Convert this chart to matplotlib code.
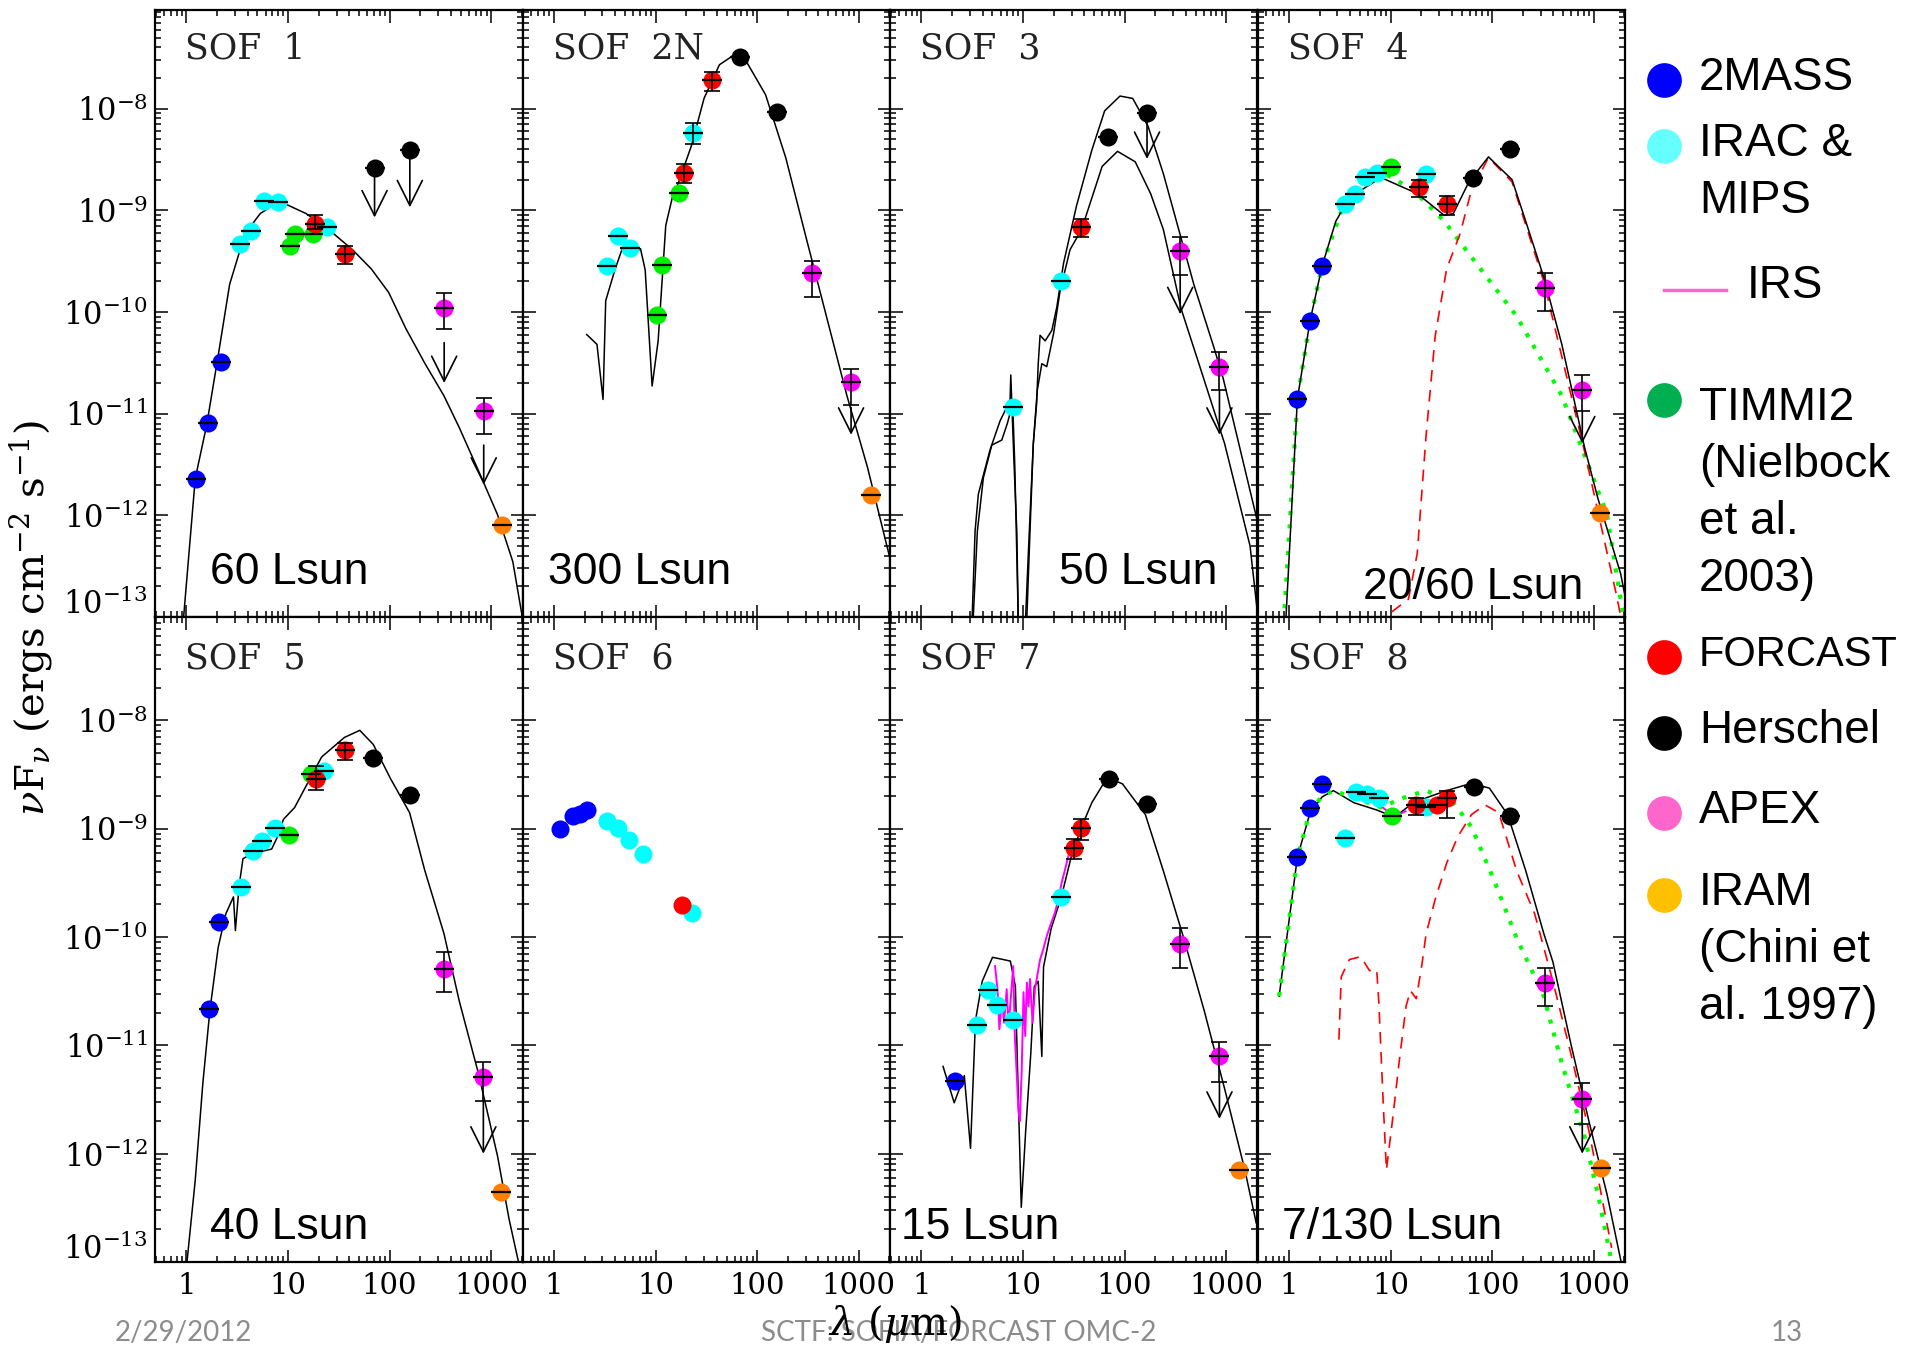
import matplotlib
matplotlib.use("Agg")
import matplotlib.pyplot as plt
from matplotlib.ticker import (LogLocator, NullFormatter, FixedLocator,
                               FixedFormatter, LogFormatterMathtext, FuncFormatter)

plt.rcParams["font.family"] = "DejaVu Serif"
plt.rcParams["mathtext.fontset"] = "dejavuserif"

W, H = 1909, 1359

SURVEYS = ["2MASS", "IRAC", "TIMMI2", "FORCAST", "Herschel", "APEX", "IRAM"]
POINT_COLORS = ["#0000ff", "#00ffff", "#00ee00", "#ff0000", "#000000", "#ff00ff", "#ff8000"]

XTICKS = [1, 10, 100, 1000]
XTICK_LABELS = ["1", "10", "100", "1000"]
YMIN = 1e-13

# ---------------- SOF 1 ----------------
sof1_wave = [1.24, 1.64, 2.17, 3.4, 4.3, 5.8, 7.9, 24, 10.4, 11.6, 17.6, 18.5, 36, 71, 158, 344, 843, 1268]
sof1_flux = [2.3e-12, 8.1e-12, 3.2e-11, 4.7e-10, 6.2e-10, 1.23e-9, 1.2e-9, 6.9e-10, 4.5e-10, 5.9e-10,
             5.9e-10, 7.4e-10, 3.7e-10, 2.6e-9, 3.9e-9, 1.1e-10, 1.05e-11, 8.0e-13]
sof1_src = ["2MASS"] * 3 + ["IRAC"] * 5 + ["TIMMI2"] * 3 + ["FORCAST"] * 2 + ["Herschel"] * 2 + ["APEX"] * 2 + ["IRAM"]
sof1_err = [(18.5, 6.5e-10, 8.9e-10), (36, 2.95e-10, 4.5e-10), (344, 6.8e-11, 1.55e-10), (843, 6.3e-12, 1.44e-11)]
sof1_lim = [(71, 2.6e-9, 8.5e-10), (158, 3.9e-9, 1.07e-9), (344, 5.0e-11, 2.0e-11), (843, 4.9e-12, 2.0e-12)]
sof1_model_wave = [0.92, 1.22, 1.58, 2.05, 2.66, 3.77, 5.33, 7.5, 9.3, 15, 25, 43, 66, 98, 144, 223, 342,
                   484, 748, 1150, 1630, 2100]
sof1_model_flux = [8e-14, 2.3e-12, 7.7e-12, 3.7e-11, 1.87e-10, 5.9e-10, 9.3e-10, 1.16e-9, 1.16e-9, 9.3e-10,
                   6.5e-10, 4.1e-10, 2.65e-10, 1.55e-10, 6.9e-11, 3.1e-11, 1.5e-11, 7.3e-12, 2.75e-12,
                   1.02e-12, 3.5e-13, 8e-14]

# ---------------- SOF 2N ----------------
sof2_wave = [3.34, 4.3, 5.6, 23.5, 10.3, 11.5, 16.9, 19, 35.7, 67.6, 157, 349, 840, 1320]
sof2_flux = [2.85e-10, 5.6e-10, 4.3e-10, 5.8e-9, 9.3e-11, 2.9e-10, 1.49e-9, 2.34e-9, 1.9e-8, 3.2e-8,
             9.3e-9, 2.4e-10, 2.06e-11, 1.58e-12]
sof2_src = ["IRAC"] * 4 + ["TIMMI2"] * 3 + ["FORCAST"] * 2 + ["Herschel"] * 2 + ["APEX"] * 2 + ["IRAM"]
sof2_err = [(23.5, 4.5e-9, 7.2e-9), (19, 1.86e-9, 2.85e-9), (35.7, 1.5e-8, 2.3e-8),
            (349, 1.4e-10, 3.2e-10), (840, 1.23e-11, 2.75e-11)]
sof2_lim = [(840, 1.15e-11, 6.2e-12)]
sof2_model_wave = [2.1, 2.65, 3.04, 3.23, 3.98, 4.7, 5.8, 7.1, 7.9, 9.25, 10.6, 12.6, 14.6, 16.9, 22.5, 30,
                   42.5, 60, 80, 121, 191, 303, 480, 765, 1215, 2000]
sof2_model_flux = [6e-11, 4.8e-11, 1.38e-11, 1.29e-10, 2.6e-10, 4.2e-10, 3.55e-10, 4.2e-10, 2.6e-10,
                   1.87e-11, 5.2e-11, 7.1e-10, 1.33e-9, 1.9e-9, 4.3e-9, 1.26e-8, 2.7e-8, 3.4e-8, 2.8e-8,
                   1.37e-8, 3.3e-9, 5.4e-10, 9.1e-11, 1.5e-11, 3.0e-12, 4.0e-13]

# ---------------- SOF 3 ----------------
sof3_wave = [7.9, 23.8, 36.9, 69, 166, 352, 857]
sof3_flux = [1.17e-11, 2.0e-10, 6.9e-10, 5.3e-9, 9.0e-9, 4.0e-10, 2.9e-11]
sof3_src = ["IRAC"] * 2 + ["FORCAST"] + ["Herschel"] * 2 + ["APEX"] * 2
sof3_err = [(36.9, 5.5e-10, 8.3e-10), (352, 2.3e-10, 5.5e-10), (857, 1.7e-11, 4.0e-11)]
sof3_lim = [(166, 9.0e-9, 3.2e-9), (352, 2.3e-10, 9.5e-11), (857, 1.7e-11, 6.2e-12)]
sof3_hi_wave = [3.13, 3.37, 3.63, 4.73, 5.94, 7.45, 7.57, 8.15, 8.67, 9.0, 10.5, 11.3, 12.6, 13.6, 14.1,
                14.7, 16.5, 19.2, 21.5, 25, 33.6, 47.5, 63.5, 90, 120, 170, 240, 340, 480, 760, 935,
                1367, 2050]
sof3_hi_flux = [8e-14, 7e-13, 1.62e-12, 4.4e-12, 8.5e-12, 1.35e-11, 2.4e-11, 3.2e-12, 7.1e-13, 8e-14,
                8e-14, 4.5e-13, 5e-12, 1.26e-11, 3.1e-11, 5.9e-11, 5.2e-11, 6.6e-11, 1.12e-10, 3e-10,
                1.11e-9, 3.9e-9, 9.5e-9, 1.33e-8, 1.26e-8, 6.7e-9, 2.3e-9, 6.5e-10, 1.86e-10, 4.4e-11,
                2.2e-11, 4.5e-12, 8.3e-13]
sof3_lo_wave = [3.2, 3.55, 4.07, 4.92, 6.17, 7.0, 7.9, 8.3, 9.0, 10.0, 10.9, 11.7, 12.6, 13.8, 15.3,
                17.1, 20, 23.1, 29, 37.7, 60, 85, 127, 180, 240, 360, 538, 962, 1715, 2050]
sof3_lo_flux = [8e-14, 7e-13, 2.35e-12, 4.9e-12, 5.5e-12, 8e-12, 1.26e-11, 2.95e-12, 8e-14, 8e-14, 1e-13,
                7e-13, 5e-12, 1.7e-11, 3.1e-11, 2.9e-11, 6.2e-11, 1.6e-10, 4.1e-10, 6.5e-10, 2.7e-9,
                3.8e-9, 3.0e-9, 1.46e-9, 6.5e-10, 1.07e-10, 3.1e-11, 5.1e-12, 5e-13, 1.0e-13]

# ---------------- SOF 4 ----------------
sof4_wave = [1.21, 1.61, 2.12, 3.54, 4.5, 5.6, 7.3, 22.4, 10.1, 18.9, 35.6, 64.5, 149, 329, 771, 1160]
sof4_flux = [1.4e-11, 8.1e-11, 2.84e-10, 1.16e-9, 1.46e-9, 2.14e-9, 2.34e-9, 2.28e-9, 2.68e-9, 1.71e-9,
             1.15e-9, 2.1e-9, 4.0e-9, 1.74e-10, 1.72e-11, 1.05e-12]
sof4_src = ["2MASS"] * 3 + ["IRAC"] * 5 + ["TIMMI2"] + ["FORCAST"] * 2 + ["Herschel"] * 2 + ["APEX"] * 2 + ["IRAM"]
sof4_err = [(18.9, 1.35e-9, 2.0e-9), (35.6, 8.9e-10, 1.37e-9), (329, 1.03e-10, 2.4e-10),
            (771, 1.05e-11, 2.4e-11)]
sof4_lim = [(771, 1.05e-11, 5.1e-12)]
sof4_model_wave = [0.93, 1.21, 1.61, 2.12, 2.89, 3.93, 8.05, 18.3, 33.8, 41.5, 59, 92, 157, 214, 322,
                   485, 810, 1100, 1840, 2150]
sof4_model_flux = [9e-14, 1.4e-11, 8.1e-11, 2.84e-10, 7.8e-10, 1.33e-9, 2.1e-9, 1.46e-9, 8.9e-10, 9.3e-10,
                   1.9e-9, 3.35e-9, 2.0e-9, 7.8e-10, 2.2e-10, 4.8e-11, 4.7e-12, 1.46e-12, 2.66e-13, 1.2e-13]
sof4_warm_wave = [0.89, 1.21, 1.61, 2.12, 3.2, 5.3, 8.9, 16.5, 33.8, 62.5, 174, 485, 897, 1350, 1750, 2050]
sof4_warm_flux = [9e-14, 1.4e-11, 8.1e-11, 2.84e-10, 9.3e-10, 2.0e-9, 2.28e-9, 1.6e-9, 7.8e-10, 3.47e-10,
                  9.1e-11, 1.5e-11, 3e-12, 1.02e-12, 2.0e-13, 8e-14]
sof4_cold_wave = [6.9, 10, 15, 18.3, 22.4, 27.5, 35.6, 48.4, 62.5, 92, 157, 322, 810, 1660, 2050]
sof4_cold_flux = [9e-14, 1.1e-13, 1.5e-13, 4.2e-13, 6.2e-12, 5.8e-11, 2.65e-10, 5.9e-10, 1.58e-9, 3.3e-9,
                  1.9e-9, 2.0e-10, 4.3e-12, 1.7e-13, 6e-14]

# ---------------- SOF 5 ----------------
sof5_wave = [1.65, 2.11, 3.45, 4.5, 5.6, 7.4, 22.8, 10.2, 16.8, 18.8, 36.6, 69, 157, 343, 836, 1260]
sof5_flux = [2.16e-11, 1.37e-10, 2.9e-10, 6.2e-10, 7.65e-10, 1.02e-9, 3.4e-9, 8.75e-10, 3.2e-9, 2.85e-9,
             5.3e-9, 4.5e-9, 2.03e-9, 5.1e-11, 5.1e-12, 4.4e-13]
sof5_src = ["2MASS"] * 2 + ["IRAC"] * 5 + ["TIMMI2"] * 2 + ["FORCAST"] * 2 + ["Herschel"] * 2 + ["APEX"] * 2 + ["IRAM"]
sof5_err = [(18.8, 2.3e-9, 3.8e-9), (36.6, 4.3e-9, 6.2e-9), (343, 3.1e-11, 7.3e-11), (836, 3.06e-12, 7.0e-12)]
sof5_lim = [(836, 3.06e-12, 1.0e-12)]
sof5_model_wave = [1.0, 1.22, 1.45, 1.7, 2.05, 2.44, 2.9, 3.03, 3.3, 3.6, 4.5, 6.9, 7.9, 9, 11.6, 15.1,
                   21.4, 35.9, 50.8, 69, 102, 157, 222, 342, 484, 748, 1153, 1496, 1900]
sof5_model_flux = [9e-14, 5.7e-13, 4.5e-12, 2.1e-11, 8e-11, 1.64e-10, 2.35e-10, 1.15e-10, 3.0e-10, 5.3e-10,
                   5.9e-10, 6.5e-10, 8.5e-10, 1.22e-9, 1.57e-9, 2.5e-9, 4.6e-9, 6.97e-9, 8.1e-9, 6.0e-9,
                   2.9e-9, 1.41e-9, 4.1e-10, 1.08e-10, 2.57e-11, 5.5e-12, 9.5e-13, 2.5e-13, 9e-14]

# ---------------- SOF 6 ----------------
sof6_wave = [1.15, 1.55, 1.8, 2.1, 3.34, 4.3, 5.5, 7.5, 23, 18.3]
sof6_flux = [9.9e-10, 1.3e-9, 1.38e-9, 1.5e-9, 1.17e-9, 1.02e-9, 7.9e-10, 5.9e-10, 1.67e-10, 1.97e-10]
sof6_src = ["2MASS"] * 4 + ["IRAC"] * 5 + ["FORCAST"]

# ---------------- SOF 7 ----------------
sof7_wave = [2.15, 3.52, 4.55, 5.6, 7.9, 23.8, 31.8, 36.9, 69.7, 166, 352, 857, 1330]
sof7_flux = [4.7e-12, 1.55e-11, 3.25e-11, 2.37e-11, 1.7e-11, 2.34e-10, 6.7e-10, 1.01e-9, 2.85e-9, 1.7e-9,
             8.65e-11, 7.9e-12, 7.0e-13]
sof7_src = ["2MASS"] + ["IRAC"] * 5 + ["FORCAST"] * 2 + ["Herschel"] * 2 + ["APEX"] * 2 + ["IRAM"]
sof7_err = [(31.8, 5.3e-10, 8.05e-10), (36.9, 7.9e-10, 1.22e-9), (352, 5.2e-11, 1.2e-10), (857, 4.6e-12, 1.07e-11)]
sof7_lim = [(857, 4.6e-12, 2.1e-12)]
sof7_model_wave = [1.63, 2.1, 2.64, 3.04, 3.4, 3.96, 5.0, 5.9, 7.5, 8.4, 8.9, 9.6, 10.6, 11.9, 12.9, 14.1,
                   15.3, 15.9, 18.9, 23.8, 29.9, 37.7, 47.5, 67.3, 95, 160, 240, 381, 606, 962, 1528, 1970]
sof7_model_flux = [6.4e-12, 2.95e-12, 5.25e-12, 1.12e-12, 1.7e-11, 3.9e-11, 6.5e-11, 6.3e-11, 6.0e-11,
                   3.5e-11, 4.5e-12, 3.2e-13, 1.6e-12, 8.3e-12, 3.5e-11, 3.9e-11, 7.9e-12, 5.3e-11,
                   1.2e-10, 2.34e-10, 5.6e-10, 1.04e-9, 1.74e-9, 2.97e-9, 2.6e-9, 1.35e-9, 4.1e-10,
                   9.8e-11, 2.1e-11, 4.0e-12, 7.0e-13, 2.3e-13]
sof7_irs_wave = [5.3, 5.6, 5.85, 6.2, 6.5, 6.9, 7.2, 7.6, 8.0, 8.3, 8.7, 9.0, 9.3, 9.7, 10.1, 10.5, 10.9,
                 11.3, 11.7, 12.4, 13.1, 13.8, 14.7, 15.8, 17.1, 18.4, 20.6, 22.3, 24, 25.9, 27.9]
sof7_irs_flux = [5.4e-11, 3.3e-11, 1.41e-11, 2.67e-11, 1.62e-11, 3.3e-11, 1.5e-11, 2.86e-11, 5.4e-11,
                 1.22e-11, 5e-12, 2.5e-12, 2e-12, 6e-12, 3.1e-11, 1.22e-11, 3.8e-11, 2.3e-11, 4.1e-11,
                 1.62e-11, 3.3e-11, 4.4e-11, 6.2e-11, 7.7e-11, 1.02e-10, 1.26e-10, 1.68e-10, 2.24e-10,
                 3.2e-10, 4.2e-10, 5.6e-10]

# ---------------- SOF 8 ----------------
sof8_wave = [1.21, 1.61, 2.12, 3.54, 4.6, 5.9, 7.65, 22.4, 10.4, 17.9, 28.4, 35.6, 65.8, 149, 329, 771, 1186]
sof8_flux = [5.45e-10, 1.57e-9, 2.58e-9, 8.3e-10, 2.18e-9, 2.1e-9, 1.93e-9, 1.58e-9, 1.31e-9, 1.66e-9,
             1.66e-9, 1.93e-9, 2.45e-9, 1.3e-9, 3.77e-11, 3.2e-12, 7.4e-13]
sof8_src = ["2MASS"] * 3 + ["IRAC"] * 5 + ["TIMMI2"] + ["FORCAST"] * 3 + ["Herschel"] * 2 + ["APEX"] * 2 + ["IRAM"]
sof8_err = [(17.9, 1.35e-9, 1.93e-9), (35.6, 1.25e-9, 2.25e-9), (329, 2.3e-11, 5.2e-11), (771, 1.86e-12, 4.5e-12)]
sof8_lim = [(771, 1.86e-12, 1.0e-12)]
sof8_model_wave = [0.8, 1.21, 1.61, 2.12, 2.74, 4.35, 7.3, 11, 14.9, 22.4, 35.6, 62.5, 94, 142, 214, 322,
                   396, 597, 899, 1352, 1840, 2100]
sof8_model_flux = [2.85e-11, 5.45e-10, 1.4e-9, 1.97e-9, 2.25e-9, 1.74e-9, 1.49e-9, 1.28e-9, 1.6e-9, 1.93e-9,
                   2.25e-9, 2.63e-9, 2.37e-9, 1.35e-9, 4.1e-10, 1.08e-10, 5.9e-11, 1.02e-11, 1.97e-12,
                   4.2e-13, 1.05e-13, 6e-14]
sof8_warm_wave = [0.8, 1.21, 1.61, 2.12, 2.74, 4.35, 8.05, 13.4, 22.4, 41.5, 62.5, 104, 174, 322, 485, 810,
                  1100, 1500, 1800]
sof8_warm_flux = [2.85e-11, 5.45e-10, 1.45e-9, 2.0e-9, 2.25e-9, 1.93e-9, 1.58e-9, 1.93e-9, 2.25e-9,
                  1.74e-9, 1.04e-9, 3.37e-10, 9.8e-11, 2.85e-11, 6.8e-12, 1.45e-12, 4.2e-13, 1.0e-13, 5e-14]
sof8_cold_wave = [3.1, 3.27, 3.93, 5.1, 6.2, 7.3, 7.65, 8.5, 9.1, 10.4, 12.1, 14.2, 15.7, 17.9, 20.2, 22.4,
                  27.5, 35.6, 46, 62.5, 85, 116, 174, 262, 396, 597, 899, 1500]
sof8_cold_flux = [1.13e-11, 4.3e-11, 6.2e-11, 6.6e-11, 4.9e-11, 5.0e-11, 2.57e-11, 2.7e-12, 7.1e-13,
                  1.97e-12, 6.8e-12, 2.3e-11, 3.2e-11, 2.7e-11, 5.3e-11, 1.08e-10, 2.23e-10, 4.8e-10,
                  8.5e-10, 1.35e-9, 1.66e-9, 1.41e-9, 4.1e-10, 1.64e-10, 3.9e-11, 8.3e-12, 1.6e-12, 1.35e-13]
sof8_irs_wave = [4.8, 5.5, 6.3, 7.2, 8.2, 9.3, 10.5, 12, 14]
sof8_irs_flux = [2.3e-9, 2.2e-9, 2.05e-9, 1.85e-9, 1.6e-9, 1.45e-9, 1.35e-9, 1.35e-9, 1.45e-9]

# legend (right hand side)
LEGEND_LABELS = ["2MASS", "IRAC &\nMIPS", "IRS", "TIMMI2\n(Nielbock\net al.\n2003)", "FORCAST",
                 "Herschel", "APEX", "IRAM\n(Chini et\nal. 1997)"]
LEGEND_COLORS = ["#0000ff", "#66ffff", "#ff66cc", "#00b050", "#ff0000", "#000000", "#ff66cc", "#ffc000"]


def sed_panel(ax, wave, flux, src, err=(), lim=(), bars=True):
    for name, color in zip(SURVEYS, POINT_COLORS):
        xs = [w for w, s in zip(wave, src) if s == name]
        ys = [f for f, s in zip(flux, src) if s == name]
        if xs:
            ax.plot(xs, ys, "o", color=color, ms=13, mec="none", zorder=3)
    if bars:
        ax.plot(wave, flux, "_", color="k", ms=15, mew=1.6, zorder=4)
    for w, lo, hi in err:
        mid = (lo * hi) ** 0.5
        ax.errorbar([w], [mid], yerr=[[mid - lo], [hi - mid]], fmt="none", ecolor="k",
                    elinewidth=1.2, capsize=6, capthick=1.2, zorder=4)
    for w, start, tip in lim:
        ax.annotate("", xy=(w, tip), xytext=(w, start),
                    arrowprops=dict(arrowstyle="->,head_length=0.6,head_width=0.3", color="k",
                                    lw=1.2, mutation_scale=30, shrinkA=0, shrinkB=0), zorder=4)


_mathfmt = LogFormatterMathtext()


def ylabel_fmt(v, pos):
    # the bottom decade is labelled separately, a little above the axis
    if abs(v / YMIN - 1) < 1e-3:
        return ""
    return _mathfmt(v, pos)


def style_axes(ax, row, col, ytop):
    ax.set_xscale("log")
    ax.set_yscale("log")
    ax.set_xlim(0.49, 2030)
    ax.set_ylim(YMIN, ytop)
    ax.xaxis.set_major_locator(FixedLocator(XTICKS))
    ax.xaxis.set_minor_locator(LogLocator(base=10, subs=range(2, 10), numticks=30))
    ax.yaxis.set_major_locator(LogLocator(base=10, numticks=30))
    ax.yaxis.set_minor_locator(LogLocator(base=10, subs=range(2, 10), numticks=30))
    ax.xaxis.set_minor_formatter(NullFormatter())
    ax.yaxis.set_minor_formatter(NullFormatter())
    ax.tick_params(which="both", direction="in", top=True, right=True, width=1.1)
    ax.tick_params(which="major", length=9)
    ax.tick_params(which="minor", length=4.5)
    ax.tick_params(axis="x", pad=7, labelsize=21)
    ax.tick_params(axis="y", pad=5, labelsize=22)
    if row == 1:
        ax.xaxis.set_major_formatter(FixedFormatter(XTICK_LABELS))
    else:
        ax.xaxis.set_major_formatter(NullFormatter())
    if col == 0:
        ax.yaxis.set_major_formatter(FuncFormatter(ylabel_fmt))
        ax.annotate(r"$\mathdefault{10^{-13}}$", xy=(0, YMIN), xycoords=("axes fraction", "data"),
                    xytext=(-5, 9), textcoords="offset points", ha="right", va="center",
                    fontsize=22)
    else:
        ax.yaxis.set_major_formatter(NullFormatter())
    for sp in ax.spines.values():
        sp.set_linewidth(1.6)


fig = plt.figure(figsize=(W / 100, H / 100), dpi=100)

col_left = [155, 522.5, 890, 1257.5]
pw = 367.5
rows = [(10, 617, 10 ** -7.03), (617, 1262, 10 ** -7.045)]

axes = {}
for r, (top, bot, ytop) in enumerate(rows):
    for c in range(4):
        ax = fig.add_axes([col_left[c] / W, 1 - bot / H, pw / W, (bot - top) / H])
        style_axes(ax, r, c, ytop)
        axes[(r, c)] = ax

model_kw = dict(color="k", lw=1.1, zorder=2)
warm_kw = dict(color="#00ff00", lw=3, ls=(0, (1, 2.2)), zorder=2)
cold_kw = dict(color="#ff0000", lw=1.2, ls=(0, (7, 5)), zorder=2)
irs_kw = dict(color="#ff00ff", lw=1.4, zorder=2)

# SOF 1
ax = axes[(0, 0)]
ax.plot(sof1_model_wave, sof1_model_flux, **model_kw)
sed_panel(ax, sof1_wave, sof1_flux, sof1_src, sof1_err, sof1_lim)
# SOF 2N
ax = axes[(0, 1)]
ax.plot(sof2_model_wave, sof2_model_flux, **model_kw)
sed_panel(ax, sof2_wave, sof2_flux, sof2_src, sof2_err, sof2_lim)
# SOF 3
ax = axes[(0, 2)]
ax.plot(sof3_hi_wave, sof3_hi_flux, **model_kw)
ax.plot(sof3_lo_wave, sof3_lo_flux, **model_kw)
sed_panel(ax, sof3_wave, sof3_flux, sof3_src, sof3_err, sof3_lim)
# SOF 4
ax = axes[(0, 3)]
ax.plot(sof4_warm_wave, sof4_warm_flux, **warm_kw)
ax.plot(sof4_cold_wave, sof4_cold_flux, **cold_kw)
ax.plot(sof4_model_wave, sof4_model_flux, **model_kw)
sed_panel(ax, sof4_wave, sof4_flux, sof4_src, sof4_err, sof4_lim)
# SOF 5
ax = axes[(1, 0)]
ax.plot(sof5_model_wave, sof5_model_flux, **model_kw)
sed_panel(ax, sof5_wave, sof5_flux, sof5_src, sof5_err, sof5_lim)
# SOF 6
ax = axes[(1, 1)]
sed_panel(ax, sof6_wave, sof6_flux, sof6_src, bars=False)
# SOF 7
ax = axes[(1, 2)]
ax.plot(sof7_model_wave, sof7_model_flux, **model_kw)
ax.plot(sof7_irs_wave, sof7_irs_flux, **irs_kw)
sed_panel(ax, sof7_wave, sof7_flux, sof7_src, sof7_err, sof7_lim)
# SOF 8
ax = axes[(1, 3)]
ax.plot(sof8_cold_wave, sof8_cold_flux, **cold_kw)
ax.plot(sof8_model_wave, sof8_model_flux, **model_kw)
ax.plot(sof8_warm_wave, sof8_warm_flux, **warm_kw)
ax.plot(sof8_irs_wave, sof8_irs_flux, **irs_kw)
sed_panel(ax, sof8_wave, sof8_flux, sof8_src, sof8_err, sof8_lim)

titles = {(0, 0): "SOF  1", (0, 1): "SOF  2N", (0, 2): "SOF  3", (0, 3): "SOF  4",
          (1, 0): "SOF  5", (1, 1): "SOF  6", (1, 2): "SOF  7", (1, 3): "SOF  8"}
for key, t in titles.items():
    axes[key].text(0.082, 0.936, t, transform=axes[key].transAxes, ha="left", va="center",
                   fontsize=25, color="#222222")

lum = [((0, 0), "60 Lsun", 0.151, 0.074), ((0, 1), "300 Lsun", 0.069, 0.074),
       ((0, 2), "50 Lsun", 0.46, 0.074), ((0, 3), "20/60 Lsun", 0.286, 0.048),
       ((1, 0), "40 Lsun", 0.151, 0.054), ((1, 2), "15 Lsun", 0.03, 0.054),
       ((1, 3), "7/130 Lsun", 0.068, 0.054)]
for key, t, x, y in lum:
    axes[key].text(x, y, t, transform=axes[key].transAxes, ha="left", va="center",
                   fontsize=32, family="Liberation Sans", zorder=6)

fig.text(31 / W, 1 - 618 / H, r"$\nu$F$_\nu$ (ergs cm$^{-2}$ s$^{-1}$)", rotation=90,
         ha="center", va="center", fontsize=29)
fig.text(895 / W, 1 - 1324 / H, r"$\lambda$ ($\mu$m)", ha="center", va="center", fontsize=29)

# legend drawn in figure pixel space
lax = fig.add_axes([0, 0, 1, 1])
lax.set_xlim(0, W)
lax.set_ylim(H, 0)
lax.axis("off")
leg_y = [80, 146, 290, 400, 657, 733, 813, 895]
for lab, col, y in zip(LEGEND_LABELS, LEGEND_COLORS, leg_y):
    if lab == "IRS":
        lax.plot([1664, 1726], [y, y], color=col, lw=2.5)
        lax.text(1747, y - 4, lab, ha="left", va="center", fontsize=33, family="Liberation Sans")
        continue
    lax.plot([1664], [y], "o", color=col, ms=25, mec="none")
    size = 30 if lab == "FORCAST" else 33
    for i, line in enumerate(lab.split("\n")):
        dy = 8 if lab.startswith("TIMMI2") else -2
        lax.text(1699, y + dy + i * 57, line, ha="left", va="center", fontsize=size,
                 family="Liberation Sans")

foot = dict(ha="center", va="center", fontsize=20, color="#8c8c8c", family="Lato")
lax.text(183, 1333, "2/29/2012", **foot)
lax.text(959, 1333, "SCTF: SOFIA/FORCAST OMC-2", **foot)
lax.text(1787, 1333, "13", **foot)

fig.savefig("out.png", dpi=100)
